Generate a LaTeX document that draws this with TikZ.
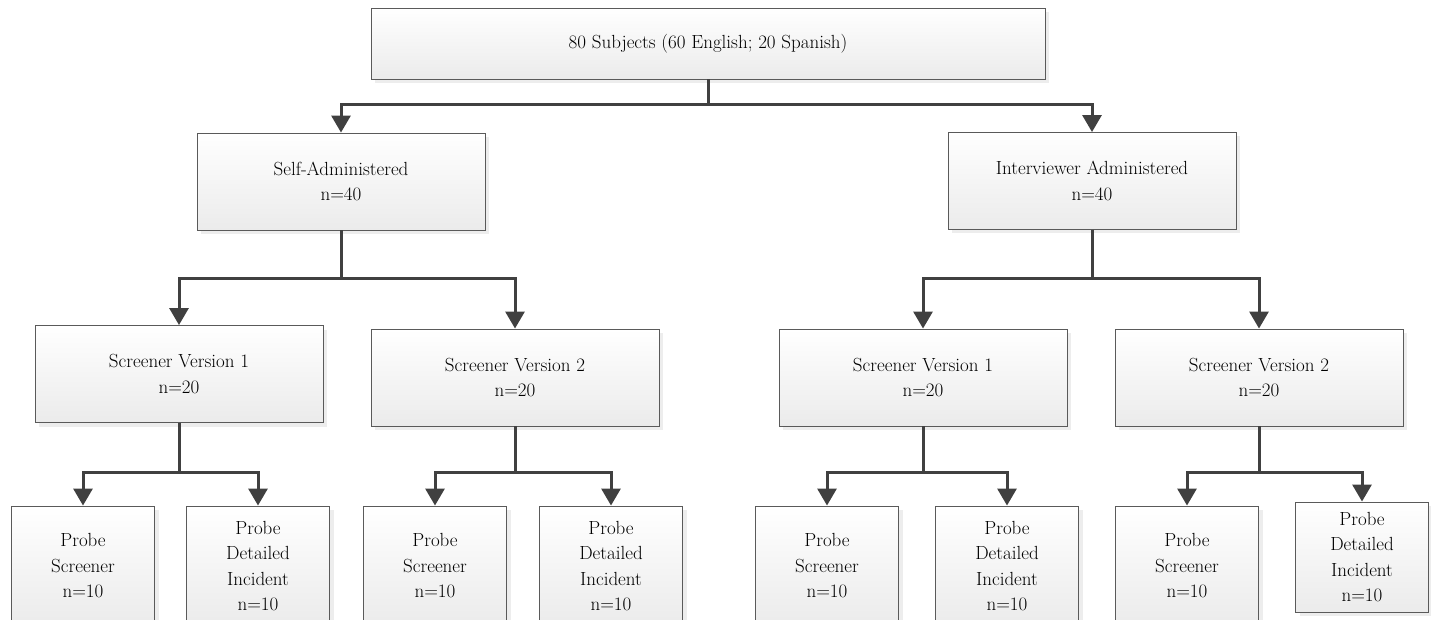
\documentclass[tikz,border=0pt]{standalone}
\usetikzlibrary{arrows.meta,shadows}
\definecolor{LineGray}{HTML}{404040}
\definecolor{EdgeGray}{HTML}{5A5A5A}
\definecolor{BoxBottom}{HTML}{EBEBEB}

\begin{document}
\begin{tikzpicture}[x = 1pt, y = -1pt,
    box/.style = {draw = EdgeGray, line width = 0.9pt, top color = white, bottom color = BoxBottom,
      drop shadow = {shadow xshift = 4pt, shadow yshift = -4pt, fill = black!14},
      align = center, inner sep = 0pt, text = black,
      font = \fontsize{19}{25.5}\selectfont},
    mid/.style = {box, minimum width = 288pt, minimum height = 97pt},
    probe/.style = {box, minimum width = 143pt, minimum height = 120pt},
    conn/.style = {draw = LineGray, line width = 3pt, -{Triangle[width = 19pt, length = 17pt]}}]
              \useasboundingbox (0, 0) rectangle (1431, 620);
              \clip (0, 0) rectangle (1431, 620);
              % top level
              \node [box, minimum width = 674pt, minimum height = 71pt] (top) at (708, 43.5) {80 Subjects (60 English; 20 Spanish)};
              \node [mid] (self) at (341, 181.5) {Self-Administered\\n=40};
              \node [mid] (inter) at (1092, 181) {Interviewer Administered\\n=40};
              % screener versions
              \node [mid] (sva) at (179, 374) {Screener Version 1\\n=20};
              \node [mid] (svb) at (515, 377.5) {Screener Version 2\\n=20};
              \node [mid] (svc) at (923, 377.5) {Screener Version 1\\n=20};
              \node [mid] (svd) at (1259, 377.5) {Screener Version 2\\n=20};
              % probes
              \foreach \n/\x in {pa/83, pc/435, pe/827, pg/1187}
              \node [probe] (\n) at (\x, 566) {Probe\\Screener\\n=10};
              \foreach \n/\x in {pb/258, pd/611, pf/1007}
              \node [probe] (\n) at (\x, 566) {Probe\\Detailed\\Incident\\n=10};
              \node [box, minimum width = 133pt, minimum height = 110pt] (ph) at (1362, 557) {Probe\\Detailed\\Incident\\n=10};
              % connectors
              \foreach \a/\b/\d in {top/self/25, top/inter/25, self/sva/48, self/svb/48, inter/svc/49, inter/svd/49,
                sva/pa/50, sva/pb/50, svb/pc/46, svb/pd/46, svc/pe/46, svc/pf/46, svd/pg/46, svd/ph/46}
              \draw [conn] (\a.south) -- ++(0, \d) -| (\b.north);
            \end{tikzpicture}
\end{document}
